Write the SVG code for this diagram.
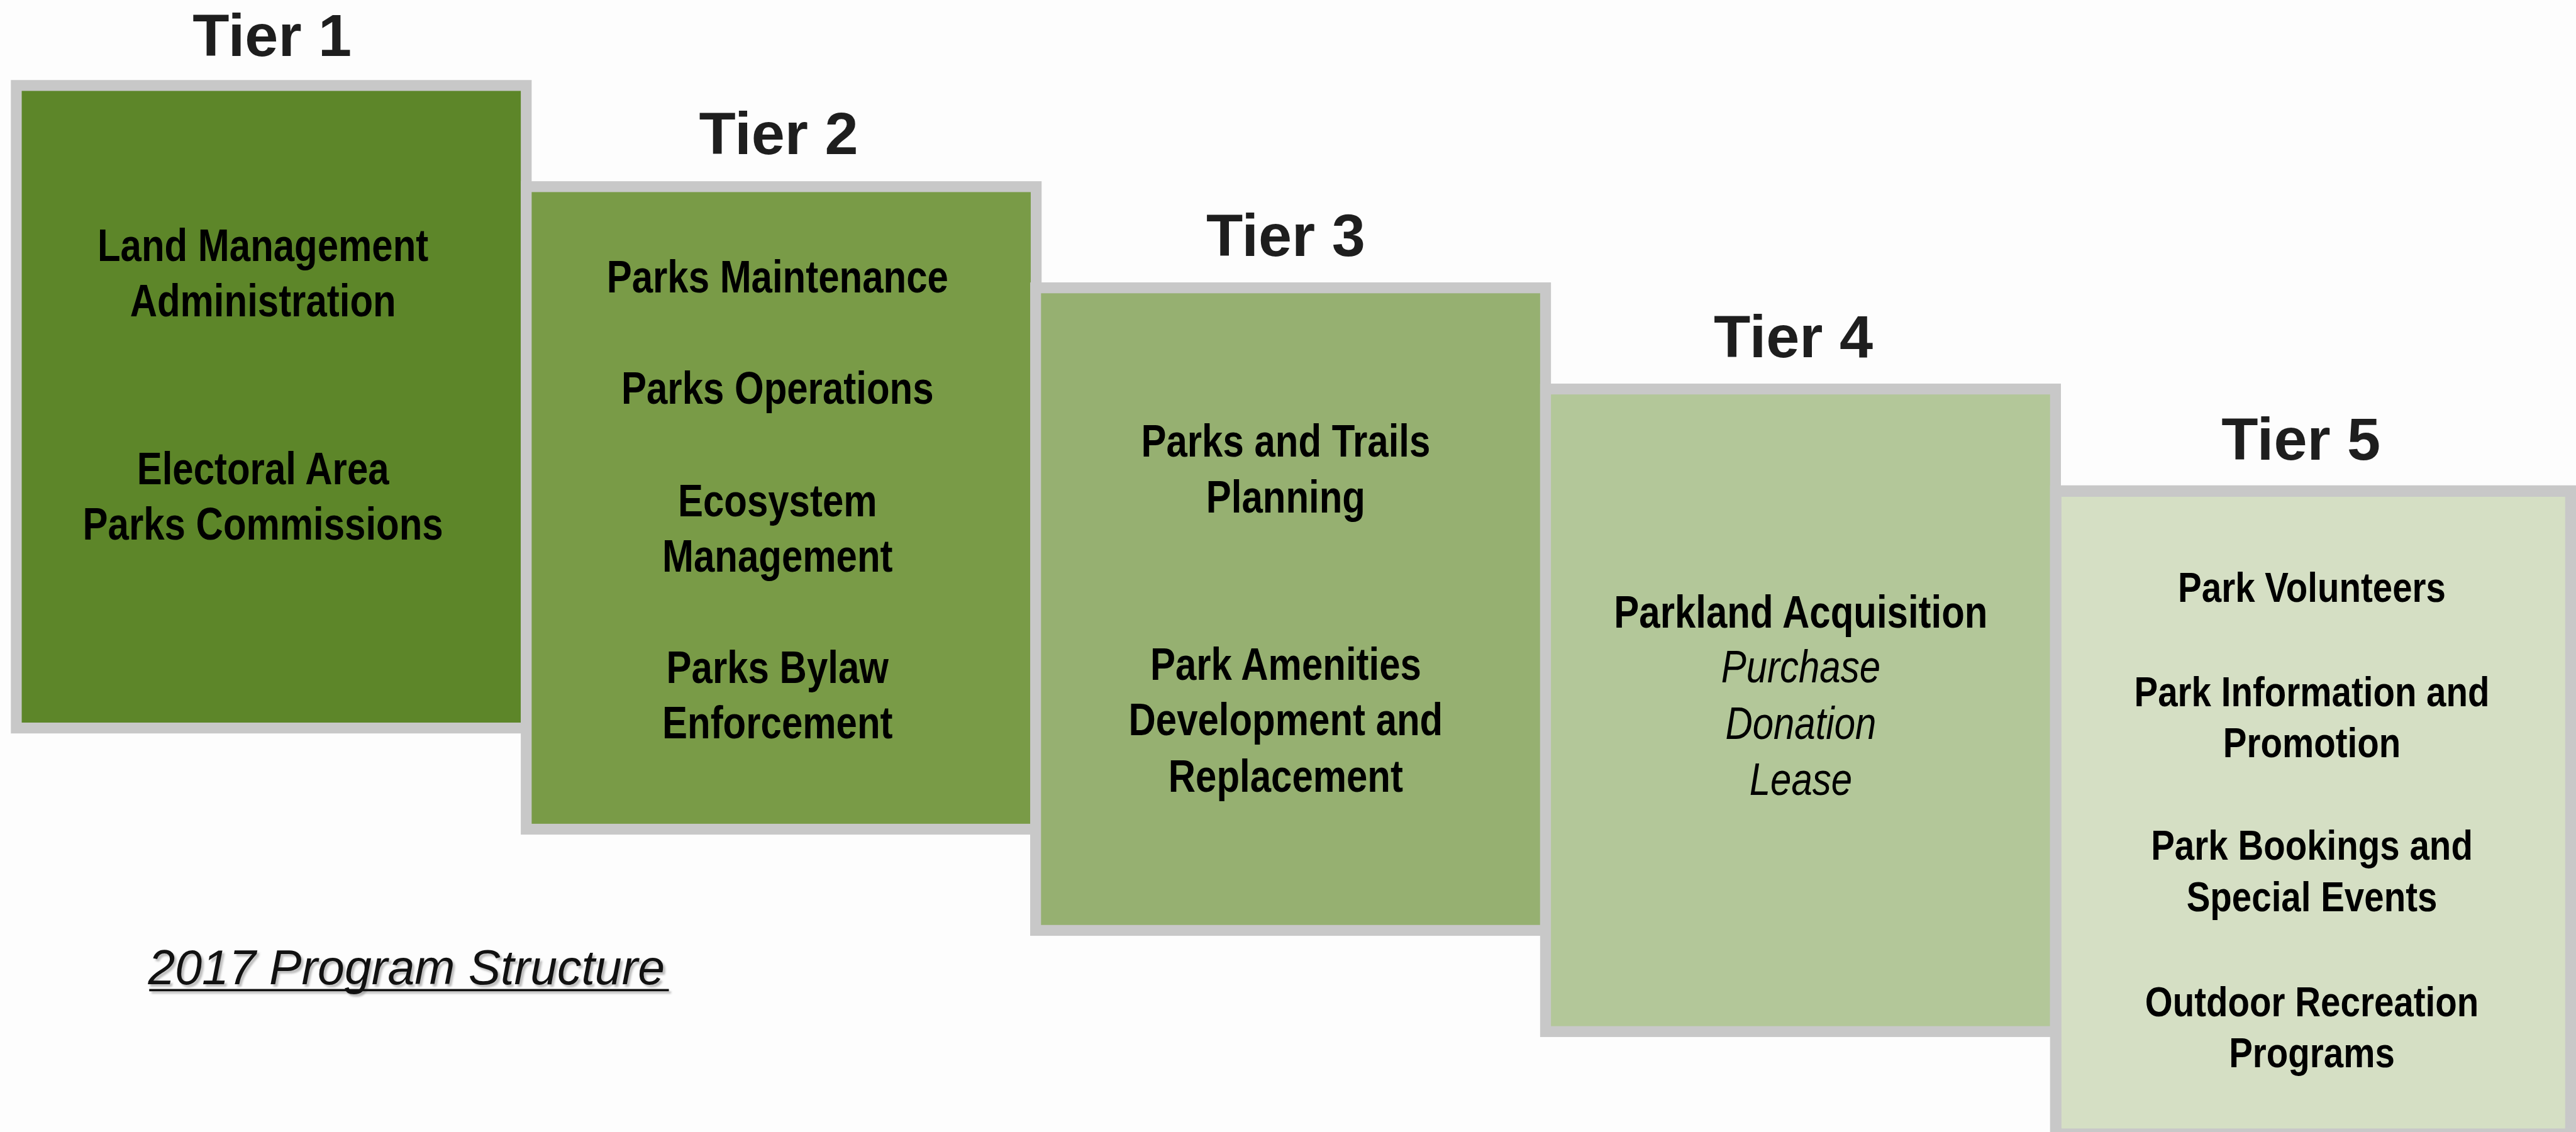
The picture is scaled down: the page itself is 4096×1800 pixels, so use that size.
<svg xmlns="http://www.w3.org/2000/svg" width="4096" height="1800" viewBox="0 0 4096 1800">
  <defs>
    <style>
      .frame { fill: #c8c8c8; }
      .t1 { fill: #5d8629; }
      .t2 { fill: #799b47; }
      .t3 { fill: #96b071; }
      .t4 { fill: #b3c799; }
      .t5 { fill: #d5dfc4; }
      .title { font-family: "Liberation Sans", Arial, sans-serif; font-weight: bold; font-size: 105px; fill: #1e1e1e; text-anchor: middle; }
      .item { font-family: "Liberation Sans", Arial, sans-serif; font-weight: bold; font-size: 79px; fill: #000; text-anchor: middle; }
      .item5 { font-family: "Liberation Sans", Arial, sans-serif; font-weight: bold; font-size: 74px; fill: #000; text-anchor: middle; }
      .sub { font-family: "Liberation Sans", Arial, sans-serif; font-style: italic; font-size: 79px; fill: #000; text-anchor: middle; }
      .caption { font-family: "Liberation Sans", Arial, sans-serif; font-style: italic; font-size: 85px; fill: #111; }
      .caption-shadow { font-family: "Liberation Sans", Arial, sans-serif; font-style: italic; font-size: 85px; fill: #8a8a8a; opacity: 0.55; }
    </style>
    <filter id="soft" x="-5%" y="-20%" width="110%" height="140%">
      <feGaussianBlur stdDeviation="2"/>
    </filter>
  </defs>

  <rect width="4096" height="1800" fill="#fdfdfd"/>

  <g transform="scale(0.90901)">
    <!-- Tier 1 -->
    <g id="tier1">
      <text class="title" x="476" y="98">Tier 1</text>
      <rect class="frame" x="19" y="140" width="911" height="1143"/>
      <rect class="t1" x="38" y="159" width="873" height="1105"/>
      <g transform="translate(460 0) scale(0.835 1)">
        <text class="item" x="0" y="457">Land Management</text>
        <text class="item" x="0" y="553">Administration</text>
        <text class="item" x="0" y="847">Electoral Area</text>
        <text class="item" x="0" y="944">Parks Commissions</text>
      </g>
    </g>

    <!-- Tier 2 -->
    <g id="tier2">
      <text class="title" x="1362" y="269">Tier 2</text>
      <rect class="frame" x="911" y="317" width="911" height="1143"/>
      <rect class="t2" x="930" y="336" width="873" height="1105"/>
      <g transform="translate(1360 0) scale(0.835 1)">
        <text class="item" x="0" y="512">Parks Maintenance</text>
        <text class="item" x="0" y="706">Parks Operations</text>
        <text class="item" x="0" y="903">Ecosystem</text>
        <text class="item" x="0" y="1000">Management</text>
        <text class="item" x="0" y="1195">Parks Bylaw</text>
        <text class="item" x="0" y="1292">Enforcement</text>
      </g>
    </g>

    <!-- Tier 3 -->
    <g id="tier3">
      <text class="title" x="2249" y="448">Tier 3</text>
      <rect class="frame" x="1802" y="494" width="911" height="1143"/>
      <rect class="t3" x="1821" y="513" width="873" height="1105"/>
      <g transform="translate(2249 0) scale(0.835 1)">
        <text class="item" x="0" y="799">Parks and Trails</text>
        <text class="item" x="0" y="897">Planning</text>
        <text class="item" x="0" y="1189">Park Amenities</text>
        <text class="item" x="0" y="1286">Development and</text>
        <text class="item" x="0" y="1385">Replacement</text>
      </g>
    </g>

    <!-- Tier 4 -->
    <g id="tier4">
      <text class="title" x="3137" y="625">Tier 4</text>
      <rect class="frame" x="2694" y="671" width="911" height="1143"/>
      <rect class="t4" x="2713" y="690" width="873" height="1105"/>
      <g transform="translate(3150 0) scale(0.835 1)">
        <text class="item" x="0" y="1098">Parkland Acquisition</text>
        <text class="sub" x="0" y="1194">Purchase</text>
        <text class="sub" x="0" y="1293">Donation</text>
        <text class="sub" x="0" y="1390">Lease</text>
      </g>
    </g>

    <!-- Tier 5 -->
    <g id="tier5">
      <text class="title" x="4025" y="804">Tier 5</text>
      <rect class="frame" x="3586" y="849" width="930" height="1143"/>
      <rect class="t5" x="3606" y="869" width="881" height="1105"/>
      <g transform="translate(4044 0) scale(0.84 1)">
        <text class="item5" x="0" y="1053">Park Volunteers</text>
        <text class="item5" x="0" y="1235">Park Information and</text>
        <text class="item5" x="0" y="1324">Promotion</text>
        <text class="item5" x="0" y="1504">Park Bookings and</text>
        <text class="item5" x="0" y="1594">Special Events</text>
        <text class="item5" x="0" y="1778">Outdoor Recreation</text>
        <text class="item5" x="0" y="1867">Programs</text>
      </g>
    </g>

    <!-- Caption with underline and soft drop shadow -->
    <g id="caption">
      <g filter="url(#soft)">
        <text class="caption-shadow" x="263" y="1726" textLength="904" lengthAdjust="spacingAndGlyphs">2017 Program Structure</text>
        <rect x="265" y="1734" width="909" height="4" fill="#8a8a8a" opacity="0.55"/>
      </g>
      <text class="caption" x="259" y="1722" textLength="904" lengthAdjust="spacingAndGlyphs">2017 Program Structure</text>
      <rect x="261" y="1730" width="909" height="4" fill="#111"/>
    </g>

    <!-- no connectors in this layout -->
    <g id="connectors"/>
  </g>
</svg>
